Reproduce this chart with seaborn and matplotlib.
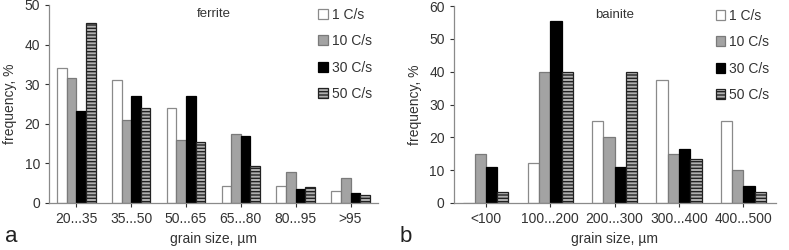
import numpy as np
import pandas as pd
import matplotlib
matplotlib.use("Agg")
import matplotlib.pyplot as plt
import seaborn as sns
from matplotlib.patches import Patch

sns.set_theme(style="white")
plt.rcParams['font.family'] = ['Liberation Sans', 'DejaVu Sans']

rates = ["1 C/s", "10 C/s", "30 C/s", "50 C/s"]

ferrite_cats = ["20...35", "35...50", "50...65", "65...80", "80...95", ">95"]
ferrite_1 = [34, 31, 24, 4.2, 4.3, 3.0]
ferrite_10 = [31.5, 21, 15.8, 17.3, 7.8, 6.2]
ferrite_30 = [23.3, 27, 27, 17, 3.5, 2.5]
ferrite_50 = [45.5, 24, 15.5, 9.3, 4.1, 2.1]

bainite_cats = ["<100", "100...200", "200...300", "300...400", "400...500"]
bainite_1 = [0, 12.3, 25, 37.5, 25]
bainite_10 = [15, 40, 20, 15, 10]
bainite_30 = [11, 55.5, 11, 16.5, 5.3]
bainite_50 = [3.3, 40, 40, 13.3, 3.3]

styles = [
    dict(facecolor="white", edgecolor="#8a8a8a", hatch=None),
    dict(facecolor="#a3a3a3", edgecolor="#7a7a7a", hatch=None),
    dict(facecolor="black", edgecolor="black", hatch=None),
    dict(facecolor="#b0b0b0", edgecolor="#222222", hatch="-----"),
]


def make_df(cats, series):
    rows = []
    for r, vals in zip(rates, series):
        for c, v in zip(cats, vals):
            rows.append({"cat": c, "rate": r, "freq": v})
    return pd.DataFrame(rows)


fig = plt.figure(figsize=(7.89, 2.5), dpi=100)
axa = fig.add_axes([0.062, 0.188, 0.417, 0.792])
axb = fig.add_axes([0.575, 0.188, 0.408, 0.788])

panels = [
    (axa, ferrite_cats, [ferrite_1, ferrite_10, ferrite_30, ferrite_50], "ferrite", 50, 10, "a"),
    (axb, bainite_cats, [bainite_1, bainite_10, bainite_30, bainite_50], "bainite", 60, 10, "b"),
]

for ax, cats, series, title, ymax, ystep, letter in panels:
    df = make_df(cats, series)
    sns.barplot(data=df, x="cat", y="freq", hue="rate", order=cats,
                hue_order=rates, width=0.7, ax=ax, legend=False,
                palette=["white", "#a3a3a3", "black", "#b0b0b0"])
    n = len(cats)
    bars = [p for p in ax.patches]
    for i, p in enumerate(bars):
        st = styles[i // n]
        p.set_facecolor(st["facecolor"])
        p.set_edgecolor(st["edgecolor"])
        p.set_linewidth(0.9)
        if st["hatch"]:
            p.set_hatch(st["hatch"])
    ax.set_xlim(-0.5, n - 0.5)
    ax.set_ylim(0, ymax)
    ax.set_yticks(np.arange(0, ymax + 1, ystep))
    ax.set_xlabel("grain size, \u00b5m", fontsize=10, color="#333333", labelpad=4)
    ax.set_ylabel("frequency, %", fontsize=10, color="#333333", labelpad=5)
    ax.tick_params(axis="both", labelsize=10, colors="#333333", length=3,
                   width=0.8, direction="out", left=True, bottom=True)
    for s in ["top", "right"]:
        ax.spines[s].set_visible(False)
    for s in ["left", "bottom"]:
        ax.spines[s].set_color("#8a8a8a")
        ax.spines[s].set_linewidth(0.9)
    ax.text(0.5, 0.985, title, transform=ax.transAxes, ha="center", va="top",
            fontsize=9.5, color="#333333")
    handles = [Patch(facecolor=st["facecolor"], edgecolor=st["edgecolor"],
                     hatch=st["hatch"], linewidth=0.9, label=r)
               for st, r in zip(styles, rates)]
    ax.legend(handles=handles, loc="upper right", bbox_to_anchor=(1.02, 1.05),
              frameon=False, fontsize=10, handlelength=0.7, handleheight=0.7,
              handletextpad=0.3, labelspacing=0.9, labelcolor="#333333")

fig.text(0.006, 0.03, "a", fontsize=16, color="#222222")
fig.text(0.507, 0.03, "b", fontsize=16, color="#222222")

fig.savefig("out.png", dpi=100)
